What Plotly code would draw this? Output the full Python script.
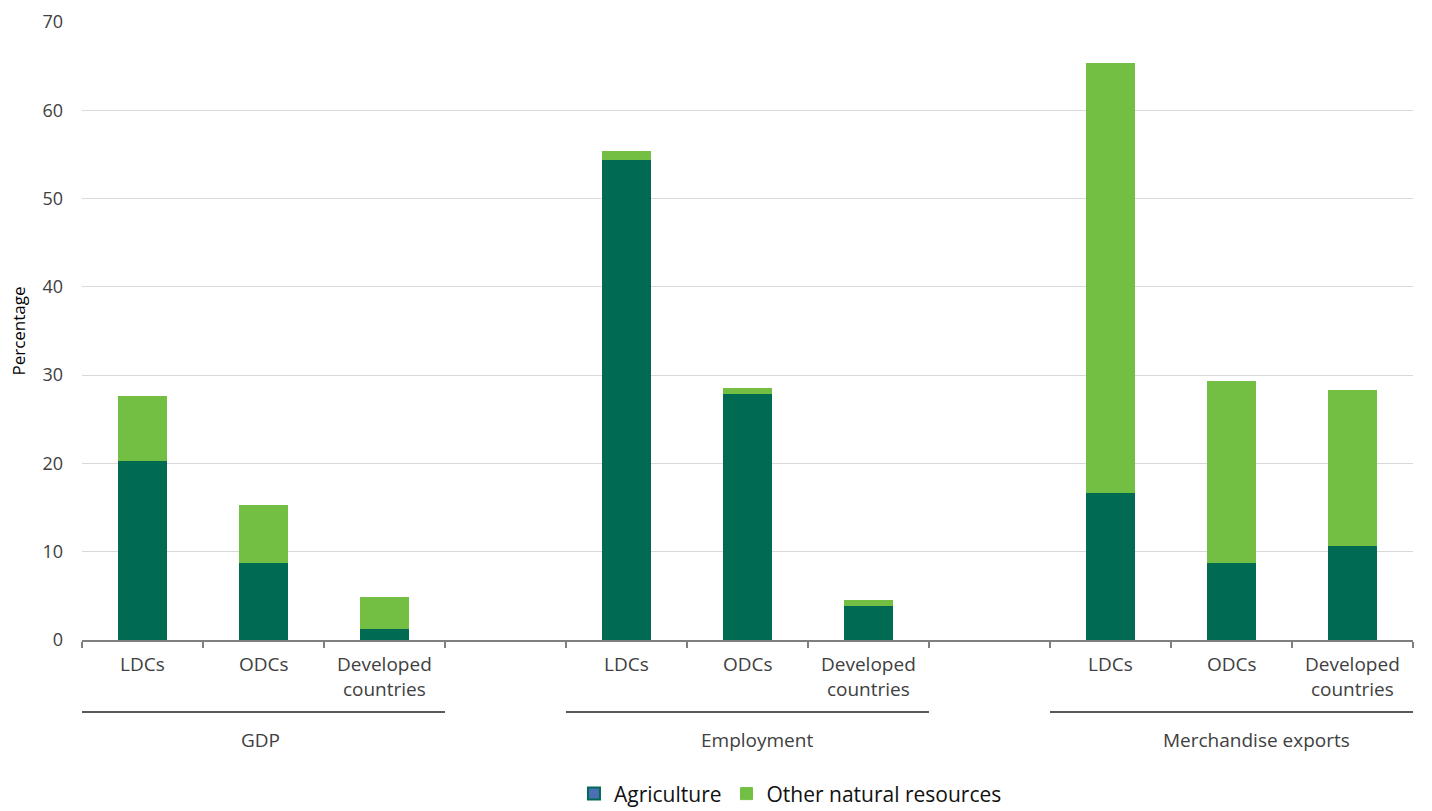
import plotly.graph_objects as go

groups = ["GDP", "Employment", "Merchandise exports"]
subcats = ["LDCs", "ODCs", "Developed<br>countries"]
agriculture = [20.3, 8.7, 1.3, 54.4, 27.9, 3.9, 16.6, 8.7, 10.6]
other = [7.3, 6.6, 3.6, 1.0, 0.6, 0.6, 48.7, 20.6, 17.7]
y_ticks = [0, 10, 20, 30, 40, 50, 60, 70]

# positions: 3 categories per group, one blank slot between groups
xpos = []
for g in range(len(groups)):
    for c in range(len(subcats)):
        xpos.append(g * 4 + c)

DARK = "#006A52"
LIGHT = "#72BF44"
FONT = "Open Sans"

fig = go.Figure()
fig.add_trace(go.Bar(x=xpos, y=agriculture, name="Agriculture", showlegend=False,
                     marker=dict(color=DARK, line=dict(width=0)), width=0.4))
fig.add_trace(go.Bar(x=xpos, y=other, name="Other natural resources", showlegend=False,
                     marker=dict(color=LIGHT, line=dict(width=0)), width=0.4))
# legend entries (symbol styling as in the original legend)
fig.add_trace(go.Bar(x=[None], y=[None], name="Agriculture",
                     marker=dict(color="#4A6FB5", line=dict(color=DARK, width=2))))
fig.add_trace(go.Bar(x=[None], y=[None], name="Other natural resources",
                     marker=dict(color=LIGHT, line=dict(color=LIGHT, width=1))))

# category labels
for i, x in enumerate(xpos):
    fig.add_annotation(x=x, y=0, xref="x", yref="paper", yanchor="top",
                       yshift=-9, text=subcats[i % 3], showarrow=False,
                       font=dict(family=FONT, size=19, color="#404040"))

# group lines and labels
label_shift = [-3, 9, 25]
for g, name in enumerate(groups):
    x0 = g * 4 - 0.5
    x1 = g * 4 + 2.5
    fig.add_shape(type="line", xref="x", yref="paper", x0=x0, x1=x1,
                  y0=-0.1165, y1=-0.1165, line=dict(color="#595959", width=2))
    fig.add_annotation(x=(x0 + x1) / 2, y=-0.162, xref="x", yref="paper",
                       text=name, showarrow=False, yanchor="middle",
                       xshift=label_shift[g],
                       font=dict(family=FONT, size=19, color="#404040"))

tick_pos = []
for g in range(len(groups)):
    for k in range(4):
        tick_pos.append(g * 4 - 0.5 + k)

fig.update_layout(
    width=1432, height=811,
    margin=dict(l=82, r=19, t=22, b=171, autoexpand=False),
    plot_bgcolor="white", paper_bgcolor="white",
    barmode="stack", bargap=0,
    font=dict(family=FONT, size=17, color="#404040"),
    xaxis=dict(range=[-0.5, 10.5], tickvals=tick_pos, ticktext=[""] * len(tick_pos),
               ticks="outside", ticklen=6, tickwidth=2, tickcolor="#7f7f7f",
               showline=True, linecolor="#7f7f7f", linewidth=2,
               showgrid=False, zeroline=False),
    yaxis=dict(range=[0, 70], tickvals=y_ticks, showgrid=True, gridcolor="#d9d9d9",
               gridwidth=1, zeroline=False, showline=False, ticks="",
               ticklabelstandoff=18,
               tickfont=dict(size=18, color="#404040"),
               title=dict(text="Percentage", font=dict(size=17, color="#000000"), standoff=12)),
    legend=dict(orientation="h", x=0.552, xanchor="center", xref="container",
                y=0.021, yanchor="middle", yref="container",
                font=dict(family=FONT, size=21, color="#111111"), traceorder="normal",
                itemwidth=30),
)

fig.write_html("out.html")
